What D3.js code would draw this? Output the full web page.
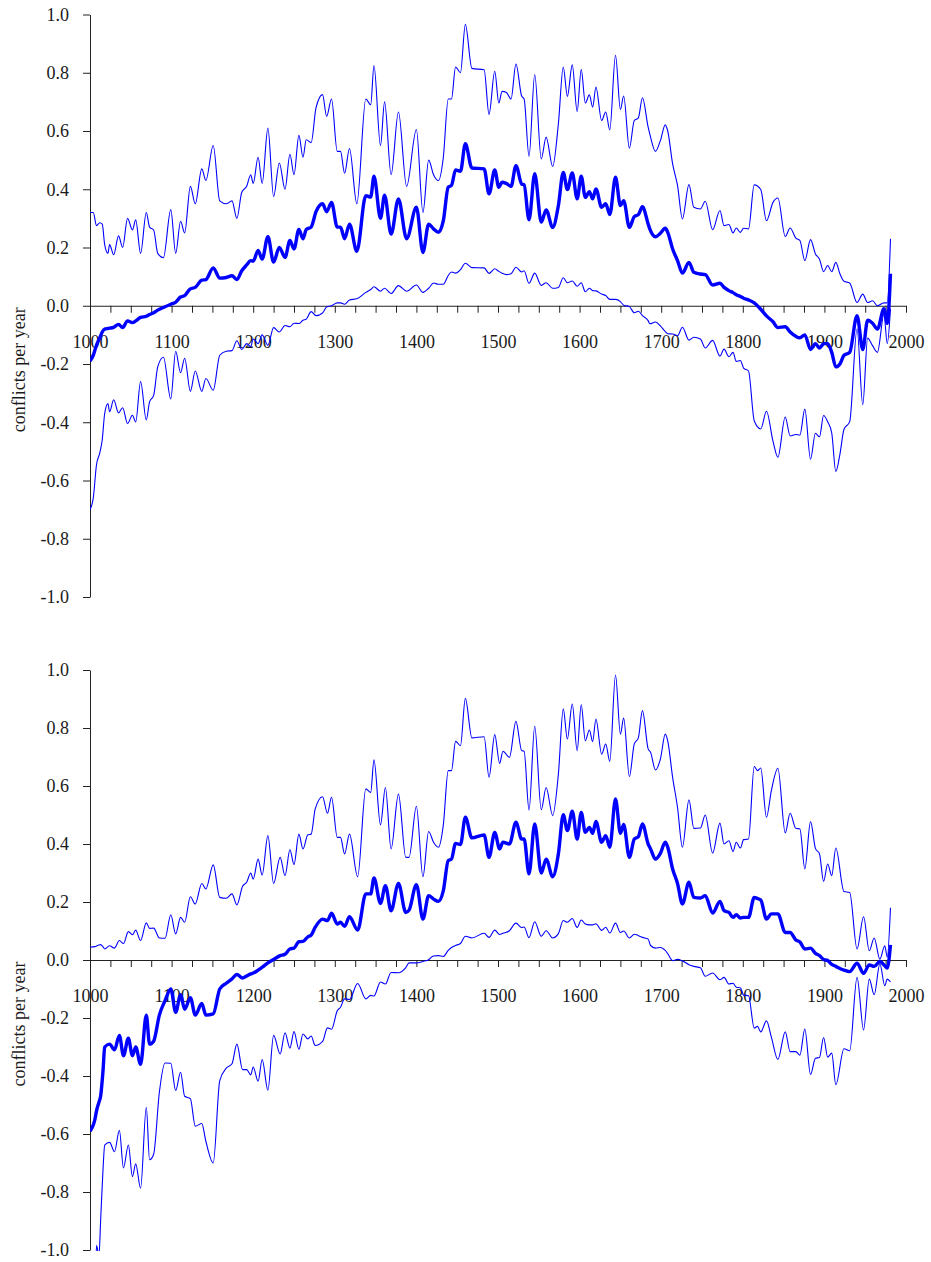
<!DOCTYPE html>
<html><head><meta charset="utf-8">
<script src="https://cdn.jsdelivr.net/npm/d3@7"></script>
<style>
body{margin:0;background:#fff}
svg{display:block}
svg text{font-family:"Liberation Serif","Times New Roman",Times,serif !important;fill:#1a1a1a}
</style>
</head><body>
<svg id="chart" width="931" height="1262"></svg>
<script>
// ---------- tick labels ----------
const xTickValues = d3.range(1000, 2001, 25);
const xTickLabels = ["1000","1100","1200","1300","1400","1500","1600","1700","1800","1900","2000"];
const yTickValues = [-1,-0.8,-0.6,-0.4,-0.2,0,0.2,0.4,0.6,0.8,1];
const yTickLabels = ["-1.0","-0.8","-0.6","-0.4","-0.2","0.0","0.2","0.4","0.6","0.8","1.0"];
const yTitle = "conflicts per year";

// ---------- top panel ----------
const topYears = [
1000,1004,1008,1012,1015,1018,1022,1024,1029,1035,
1040,1046,1052,1056,1062,1069,1073,1078,1083,1090,
1099,1105,1111,1116,1123,1129,1137,1142,1151,1159,
1167,1174,1180,1186,1192,1197,1200,1206,1211,1218,
1225,1232,1239,1245,1250,1256,1261,1265,1271,1277,
1285,1290,1296,1303,1307,1312,1318,1327,1338,1344,
1348,1356,1361,1369,1378,1388,1400,1408,1415,1421,
1427,1433,1439,1443,1448,1454,1460,1468,1483,1489,
1496,1501,1505,1510,1516,1522,1529,1532,1538,1545,
1553,1559,1567,1574,1580,1585,1591,1597,1602,1607,
1612,1616,1620,1627,1632,1637,1644,1650,1654,1661,
1667,1672,1677,1684,1686,1693,1699,1705,1708,1714,
1720,1726,1734,1740,1748,1754,1763,1772,1777,1783,
1788,1792,1797,1801,1807,1814,1822,1829,1837,1843,
1852,1858,1865,1870,1876,1883,1889,1894,1899,1904,
1909,1914,1919,1924,1931,1940,1947,1953,1959,1965,
1973,1977,1981];
const topUpper = [
0.32,0.32,0.275,0.285,0.28,0.21,0.18,0.21,0.175,0.24,
0.20,0.30,0.26,0.295,0.18,0.32,0.27,0.26,0.18,0.165,
0.33,0.18,0.29,0.25,0.41,0.35,0.47,0.43,0.55,0.36,
0.35,0.36,0.30,0.39,0.41,0.45,0.42,0.51,0.42,0.61,
0.375,0.49,0.40,0.52,0.45,0.585,0.51,0.57,0.56,0.68,
0.725,0.65,0.71,0.53,0.53,0.455,0.54,0.35,0.71,0.69,
0.825,0.55,0.70,0.45,0.665,0.41,0.605,0.32,0.50,0.45,
0.43,0.51,0.71,0.71,0.82,0.80,0.966,0.815,0.81,0.657,
0.805,0.696,0.736,0.733,0.71,0.83,0.72,0.71,0.513,0.794,
0.504,0.579,0.478,0.625,0.82,0.719,0.827,0.667,0.811,0.696,
0.724,0.682,0.751,0.636,0.665,0.604,0.86,0.674,0.72,0.541,
0.636,0.645,0.714,0.613,0.59,0.53,0.567,0.621,0.60,0.487,
0.413,0.298,0.416,0.338,0.332,0.359,0.261,0.327,0.275,0.279,
0.25,0.267,0.252,0.266,0.264,0.415,0.399,0.292,0.355,0.37,
0.238,0.267,0.232,0.224,0.155,0.227,0.178,0.16,0.117,0.138,
0.117,0.149,0.11,0.084,0.078,0.011,0.04,0.011,0.017,0.0,
0.01,0.01,0.23];
const topMean = [
-0.19,-0.17,-0.135,-0.11,-0.09,-0.08,-0.078,-0.077,-0.074,-0.064,
-0.075,-0.052,-0.058,-0.052,-0.04,-0.036,-0.03,-0.024,-0.015,-0.006,
0.005,0.012,0.03,0.035,0.058,0.063,0.088,0.09,0.13,0.095,
0.097,0.103,0.09,0.12,0.14,0.155,0.153,0.19,0.16,0.237,
0.15,0.20,0.166,0.224,0.195,0.262,0.23,0.262,0.27,0.323,
0.35,0.323,0.355,0.27,0.27,0.23,0.28,0.187,0.378,0.373,
0.445,0.30,0.38,0.246,0.367,0.23,0.338,0.183,0.28,0.264,
0.252,0.292,0.407,0.413,0.466,0.462,0.556,0.473,0.47,0.384,
0.466,0.407,0.424,0.42,0.41,0.481,0.418,0.415,0.295,0.453,
0.287,0.329,0.269,0.344,0.458,0.399,0.456,0.367,0.445,0.372,
0.392,0.367,0.401,0.338,0.35,0.313,0.441,0.344,0.361,0.269,
0.306,0.313,0.34,0.281,0.264,0.237,0.249,0.266,0.252,0.195,
0.155,0.112,0.149,0.115,0.109,0.107,0.071,0.077,0.063,0.052,
0.045,0.038,0.032,0.026,0.02,0.01,-0.012,-0.035,-0.055,-0.075,
-0.072,-0.09,-0.105,-0.11,-0.10,-0.15,-0.13,-0.145,-0.13,-0.13,
-0.16,-0.21,-0.20,-0.17,-0.16,-0.034,-0.15,-0.05,-0.06,-0.08,
-0.01,-0.06,0.11];
const topLower = [
-0.70,-0.66,-0.545,-0.505,-0.46,-0.37,-0.336,-0.364,-0.323,-0.368,
-0.35,-0.404,-0.376,-0.399,-0.26,-0.392,-0.33,-0.308,-0.21,-0.177,
-0.32,-0.156,-0.23,-0.18,-0.294,-0.224,-0.294,-0.25,-0.29,-0.17,
-0.156,-0.154,-0.12,-0.15,-0.13,-0.14,-0.114,-0.13,-0.10,-0.136,
-0.075,-0.09,-0.068,-0.072,-0.06,-0.061,-0.05,-0.046,-0.02,-0.034,
-0.025,-0.004,0.0,0.01,0.01,0.005,0.02,0.024,0.046,0.056,
0.065,0.05,0.06,0.042,0.069,0.05,0.071,0.046,0.06,0.078,
0.074,0.074,0.104,0.116,0.112,0.124,0.146,0.131,0.13,0.111,
0.127,0.118,0.112,0.107,0.11,0.132,0.116,0.12,0.077,0.112,
0.07,0.079,0.06,0.063,0.096,0.079,0.085,0.067,0.079,0.048,
0.06,0.052,0.051,0.04,0.035,0.022,0.022,0.014,0.002,-0.003,
-0.024,-0.019,-0.034,-0.051,-0.062,-0.056,-0.069,-0.089,-0.096,-0.097,
-0.103,-0.074,-0.118,-0.108,-0.114,-0.145,-0.119,-0.173,-0.149,-0.175,
-0.16,-0.191,-0.188,-0.214,-0.224,-0.395,-0.423,-0.362,-0.465,-0.52,
-0.382,-0.447,-0.442,-0.444,-0.355,-0.527,-0.438,-0.45,-0.377,-0.398,
-0.437,-0.569,-0.51,-0.424,-0.398,-0.079,-0.34,-0.111,-0.137,-0.16,
-0.03,-0.13,-0.01];

// ---------- bottom panel ----------
const bottomYears = [
1000,1006,1008,1011,1013,1016,1018,1024,1030,1036,1041,1047,1052,
1056,1062,1069,1073,1078,1085,1092,1099,1105,1111,
1116,1123,1129,1137,1142,1151,1159,1167,1174,1180,
1187,1192,1197,1200,1206,1211,1218,1225,1233,1239,
1245,1250,1256,1261,1267,1271,1276,1285,1291,1296,
1303,1307,1312,1318,1328,1338,1344,1348,1356,1362,
1369,1378,1387,1391,1400,1408,1415,1421,1427,1433,
1439,1443,1448,1454,1460,1468,1483,1489,1496,1502,
1506,1514,1522,1529,1532,1538,1545,1553,1559,1567,
1574,1580,1585,1591,1597,1602,1607,1612,1616,1620,
1627,1632,1637,1644,1650,1654,1661,1667,1672,1677,
1684,1687,1693,1699,1705,1708,1714,1720,1726,1734,
1740,1748,1754,1763,1772,1777,1783,1788,1792,1797,
1801,1807,1814,1818,1822,1829,1835,1843,1852,1858,
1865,1870,1876,1883,1889,1894,1899,1904,1909,1914,
1924,1931,1940,1948,1955,1961,1968,1974,1977,1981];
const bottomUpper = [
0.044,0.046,0.048,0.052,0.053,0.045,0.038,0.049,0.041,0.067,0.057,0.098,0.087,
0.103,0.067,0.128,0.109,0.11,0.076,0.075,0.156,0.09,0.147,
0.13,0.218,0.193,0.264,0.245,0.328,0.216,0.213,0.228,0.19,
0.254,0.268,0.30,0.279,0.348,0.293,0.429,0.264,0.354,0.291,
0.38,0.329,0.434,0.383,0.432,0.434,0.521,0.563,0.506,0.561,
0.423,0.423,0.366,0.434,0.287,0.59,0.578,0.69,0.466,0.595,
0.383,0.572,0.354,0.354,0.53,0.287,0.443,0.406,0.389,0.466,
0.653,0.653,0.754,0.739,0.902,0.766,0.77,0.63,0.777,0.678,
0.72,0.699,0.823,0.722,0.72,0.517,0.806,0.518,0.595,0.498,
0.641,0.866,0.762,0.883,0.722,0.88,0.756,0.793,0.753,0.831,
0.71,0.745,0.685,0.983,0.779,0.834,0.632,0.745,0.766,0.86,
0.728,0.716,0.655,0.693,0.779,0.756,0.63,0.526,0.389,0.552,
0.454,0.455,0.50,0.369,0.472,0.40,0.411,0.374,0.406,0.386,
0.415,0.417,0.667,0.653,0.662,0.492,0.584,0.661,0.438,0.506,
0.454,0.452,0.314,0.477,0.385,0.366,0.271,0.331,0.291,0.386,
0.236,0.233,0.038,0.149,0.032,0.076,0.003,0.049,0.01,0.18];
const bottomMean = [
-0.59,-0.55,-0.52,-0.49,-0.47,-0.38,-0.30,-0.29,-0.31,-0.26,-0.33,-0.27,-0.33,
-0.30,-0.36,-0.19,-0.29,-0.28,-0.19,-0.14,-0.10,-0.18,-0.12,
-0.17,-0.13,-0.19,-0.15,-0.19,-0.186,-0.10,-0.08,-0.065,-0.05,
-0.062,-0.055,-0.048,-0.045,-0.035,-0.025,-0.01,0.002,0.015,0.02,
0.038,0.041,0.063,0.064,0.08,0.086,0.113,0.141,0.136,0.161,
0.124,0.13,0.116,0.149,0.103,0.228,0.228,0.283,0.195,0.256,
0.17,0.264,0.164,0.172,0.26,0.141,0.222,0.21,0.202,0.239,
0.343,0.348,0.402,0.398,0.492,0.421,0.431,0.354,0.44,0.383,
0.406,0.40,0.475,0.417,0.417,0.297,0.469,0.30,0.348,0.287,
0.366,0.501,0.446,0.513,0.417,0.509,0.44,0.457,0.437,0.478,
0.406,0.429,0.389,0.555,0.437,0.467,0.354,0.417,0.425,0.469,
0.40,0.383,0.348,0.368,0.406,0.389,0.314,0.264,0.193,0.268,
0.216,0.214,0.222,0.162,0.202,0.17,0.164,0.147,0.156,0.145,
0.147,0.147,0.216,0.212,0.207,0.141,0.159,0.159,0.095,0.095,
0.069,0.062,0.038,0.041,0.023,0.015,0.002,-0.002,-0.015,-0.022,
-0.035,-0.04,-0.011,-0.046,-0.017,-0.022,-0.005,-0.02,-0.028,0.052];
const bottomLower = [
-1.224,-1.146,-0.985,-1.02,-0.90,-0.72,-0.638,-0.629,-0.661,-0.587,-0.717,-0.638,-0.747,
-0.703,-0.787,-0.508,-0.689,-0.67,-0.456,-0.355,-0.356,-0.45,-0.387,
-0.47,-0.478,-0.573,-0.564,-0.625,-0.70,-0.416,-0.373,-0.358,-0.29,
-0.378,-0.378,-0.396,-0.369,-0.418,-0.343,-0.449,-0.26,-0.324,-0.251,
-0.304,-0.247,-0.308,-0.255,-0.272,-0.262,-0.295,-0.281,-0.234,-0.239,
-0.175,-0.163,-0.134,-0.136,-0.081,-0.134,-0.122,-0.124,-0.076,-0.083,
-0.043,-0.044,-0.026,-0.01,-0.01,-0.005,0.001,0.014,0.015,0.012,
0.033,0.043,0.05,0.057,0.082,0.076,0.092,0.078,0.103,0.088,
0.092,0.101,0.127,0.112,0.114,0.077,0.132,0.082,0.101,0.076,
0.091,0.136,0.13,0.143,0.112,0.138,0.124,0.121,0.121,0.125,
0.102,0.113,0.093,0.127,0.095,0.10,0.076,0.089,0.084,0.078,
0.072,0.05,0.041,0.043,0.033,0.022,-0.002,0.002,-0.003,-0.016,
-0.022,-0.027,-0.056,-0.045,-0.068,-0.06,-0.083,-0.08,-0.094,-0.096,
-0.121,-0.123,-0.235,-0.229,-0.248,-0.21,-0.266,-0.343,-0.248,-0.316,
-0.316,-0.328,-0.238,-0.395,-0.339,-0.336,-0.267,-0.335,-0.321,-0.43,
-0.306,-0.313,-0.06,-0.241,-0.066,-0.12,-0.013,-0.089,-0.066,-0.076];

// ---------- drawing ----------
const svg = d3.select("#chart");
const x = d3.scaleLinear().domain([1000, 2000]).range([90, 906]);
const panels = [
  {years: topYears, upper: topUpper, mean: topMean, lower: topLower, y0: 14.5, y1: 597},
  {years: bottomYears, upper: bottomUpper, mean: bottomMean, lower: bottomLower, y0: 670, y1: 1250}
];
const axisColor = "#222";
const blue = "#0000ff";
const serif = '"Liberation Serif","Times New Roman",Times,serif';

panels.forEach((p, i) => {
  const y = d3.scaleLinear().domain([-1, 1]).range([p.y1, p.y0]);
  const g = svg.append("g");

  g.append("clipPath").attr("id", "clip" + i)
    .append("rect").attr("x", 90).attr("y", p.y0 - 1)
    .attr("width", 817).attr("height", p.y1 - p.y0 + 2);

  // y axis
  const ya = g.append("g").attr("transform", "translate(90,0)")
    .call(d3.axisLeft(y).tickValues(yTickValues)
      .tickFormat((d, k) => yTickLabels[k]).tickSize(7).tickSizeOuter(0).tickPadding(14));
  ya.attr("font-family", serif).attr("font-size", 18);
  ya.selectAll("path,line").attr("stroke", axisColor);
  ya.selectAll("text").attr("fill", "#1a1a1a").style("font-family", serif).style("font-size", "18px");

  // x axis at zero
  const xa = g.append("g").attr("transform", `translate(0,${y(0)})`)
    .call(d3.axisBottom(x).tickValues(xTickValues)
      .tickFormat(d => (d % 100 === 0 ? xTickLabels[(d - 1000) / 100] : ""))
      .tickSize(7).tickSizeOuter(0).tickPadding(22));
  xa.attr("font-family", serif).attr("font-size", 18);
  xa.selectAll("path,line").attr("stroke", axisColor);
  xa.selectAll("text").attr("fill", "#1a1a1a").style("font-family", serif).style("font-size", "18px");

  // y title
  g.append("text")
    .attr("transform", `translate(25,${y(0) + 64}) rotate(-90)`)
    .attr("text-anchor", "middle")
    .style("font-family", serif)
    .style("font-size", "18px")
    .text(yTitle);

  const line = d3.line().x(d => x(d[0])).y(d => y(d[1])).curve(d3.curveMonotoneX);
  const series = [
    {vals: p.upper, w: 1.1},
    {vals: p.lower, w: 1.1},
    {vals: p.mean, w: 3.4}
  ];
  const lg = g.append("g").attr("clip-path", `url(#clip${i})`);
  series.forEach(s => {
    lg.append("path")
      .datum(p.years.map((yr, k) => [yr, s.vals[k]]))
      .attr("fill", "none")
      .attr("stroke", blue)
      .attr("stroke-width", s.w)
      .attr("stroke-linejoin", "round")
      .attr("d", line);
  });
});
</script>
</body></html>
